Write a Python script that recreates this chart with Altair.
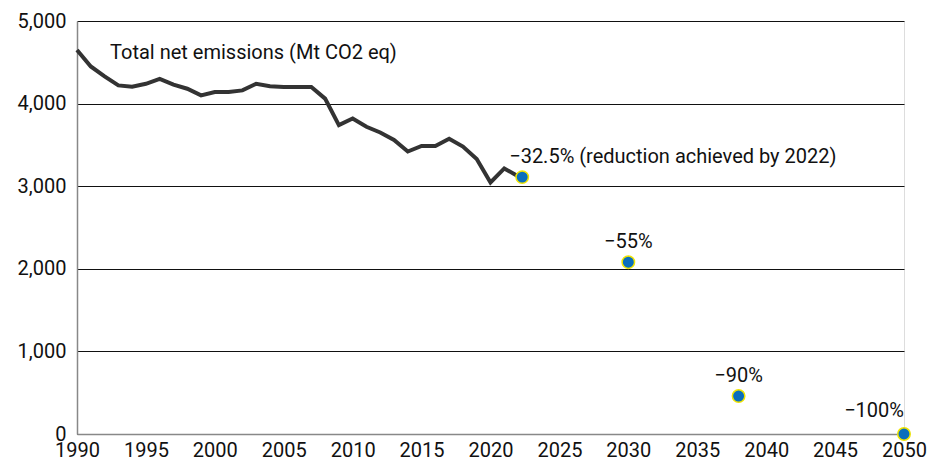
import altair as alt
import pandas as pd

years = list(range(1990, 2023))
emissions = [4650, 4450, 4330, 4220, 4205, 4240, 4300, 4230, 4180, 4100,
             4140, 4140, 4160, 4240, 4210, 4200, 4200, 4200, 4060, 3740,
             3820, 3720, 3650, 3560, 3420, 3487, 3487, 3575, 3480, 3330,
             3045, 3215, 3120]

target_years = [2022.3, 2030, 2038, 2050]
target_values = [3110, 2080, 460, 0]
target_labels = ["\u221232.5% (reduction achieved by 2022)", "\u221255%", "\u221290%", "\u2212100%"]
target_kind = ["left", "center", "center", "right"]

series_label = "Total net emissions (Mt CO2 eq)"
x_ticks = list(range(1990, 2051, 5))
y_ticks = [0, 1000, 2000, 3000, 4000, 5000]

FONT = "Roboto"
FS = 20

line_df = pd.DataFrame({"year": years, "value": emissions})
pts_df = pd.DataFrame({"year": target_years, "value": target_values,
                       "label": target_labels, "kind": target_kind})
ann_df = pd.DataFrame({"year": [1992.4], "value": [4615], "label": [series_label]})

xs = alt.Scale(domain=[1990, 2050], nice=False, zero=False)
ys = alt.Scale(domain=[0, 5000], nice=False)

x_enc = alt.X("year:Q", scale=xs, axis=alt.Axis(values=x_ticks, format="d", title=None,
              labelFontSize=FS, labelFont=FONT, labelColor="#111", ticks=False,
              labelFlush=False, labelOverlap=False, labelBaseline="bottom",
              labelPadding=26, grid=False, domainColor="#888", domainWidth=1.5))
y_enc = alt.Y("value:Q", scale=ys, axis=alt.Axis(values=y_ticks, format=",.0f", title=None,
              labelFontSize=FS, labelFont=FONT, labelColor="#111", ticks=False,
              labelFlush=False, labelOverlap=False,
              labelPadding=11, grid=True, gridColor="#111", gridWidth=1,
              domainColor="#888", domainWidth=1.5))

line = alt.Chart(line_df).mark_line(color="#333333", strokeWidth=4).encode(x=x_enc, y=y_enc)

points = alt.Chart(pts_df).mark_point(filled=True, size=155, color="#0a6ebd",
                                      stroke="#f0e400", strokeWidth=1.5, opacity=1).encode(
    x="year:Q", y="value:Q")

base_text = alt.Chart(pts_df)
t_left = base_text.transform_filter(alt.datum.kind == "left").mark_text(
    align="left", baseline="middle", dx=-13, dy=-20, fontSize=FS, font=FONT, color="#111").encode(
    x="year:Q", y="value:Q", text="label:N")
t_center = base_text.transform_filter(alt.datum.kind == "center").mark_text(
    align="center", baseline="middle", dy=-20, fontSize=FS, font=FONT, color="#111").encode(
    x="year:Q", y="value:Q", text="label:N")
t_right = base_text.transform_filter(alt.datum.kind == "right").mark_text(
    align="right", baseline="middle", dx=0, dy=-23, fontSize=FS, font=FONT, color="#111").encode(
    x="year:Q", y="value:Q", text="label:N")

ann = alt.Chart(ann_df).mark_text(align="left", baseline="middle", fontSize=FS, font=FONT,
                                   color="#111").encode(x="year:Q", y="value:Q", text="label:N")

chart = alt.layer(line, points, t_left, t_center, t_right, ann).properties(
    width=827, height=413,
    autosize=alt.AutoSizeParams(type="none"),
    padding={"left": 69, "top": 13, "right": 26, "bottom": 27},
).configure_view(stroke="#777", strokeWidth=1.2).configure(background="white")

chart.save("out.html", embed_options={"renderer": "svg", "actions": False})
